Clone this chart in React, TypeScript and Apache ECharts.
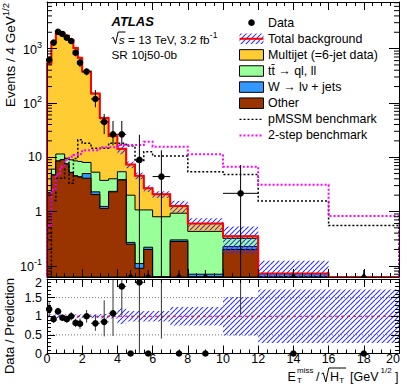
import React, { useEffect, useRef } from 'react';
import * as echarts from 'echarts';

// ---------- data ----------
const binEdges = [0, 0.25, 0.5, 0.75, 1, 1.25, 1.5, 1.75, 2, 2.5, 3, 3.5, 4, 4.5, 5, 5.5, 6, 7, 8, 10, 12, 16, 20];

// stacked backgrounds, bottom to top
const otherBkg = [2.2, 4.7, 8.5, 9.0, 7.5, 5.2, 4.5, 4.3, 4.1, 2.05, 1.14, 2.3, 3.8, 0.25, 0.09, 0.2, 0.03, 0.28, 0.03, 0.2, 0.032, 0.01];
const wJets = [0.02, 0.03, 0.05, 0.05, 0.05, 0.05, 0.05, 0.05, 0.9, 0.25, 0.1, 0.05, 0.05, 0.02, 0.02, 0.02, 0.01, 0.02, 0.04, 0.026, 0.04, 0.01];
const ttbar = [0.2, 1.3, 2.9, 2.4, 2.0, 3.7, 4.0, 4.0, 3.0, 3.0, 2.5, 1.65, 1.55, 1.73, 0.96, 0.85, 0.76, 0.63, 0.36, 0.094, 0, 0.01];
const multijet = [528, 1324, 1838, 1889, 1710, 1441, 1021, 672, 369, 143, 49, 20.5, 8.9, 5.3, 3.5, 1.6, 1.27, 0.33, 0.17, 0.03, 0, 0];
const bkgRelUnc = [0.05, 0.05, 0.05, 0.05, 0.05, 0.05, 0.05, 0.05, 0.05, 0.05, 0.06, 0.06, 0.21, 0.14, 0.14, 0.14, 0.14, 0.25, 0.25, 0.52, 0.72, 0.72];

const dataValues = [617, 1290, 2040, 1860, 1590, 1380, 840, 550, 377, 118, 44.6, 26.4, 26.4, 0, 8.9, 0, 4.4, 0, 0, 2.16, 0, 0];
const dataErrLow = [100, 145, 185, 170, 160, 150, 120, 95, 55, 35, 18, 10, 10, 0, 8.9, 0, 4.4, 0, 0, 2.16, 0, 0];
const dataErrHigh = [100, 145, 185, 170, 160, 150, 120, 95, 55, 55, 18, 20, 20, 0, 17, 0, 9, 0, 0, 5, 0, 0];

const pmssm = [0.05, 1.6, 4.1, 4.1, 9.5, 3.3, 9.5, 21, 18, 14.6, 14.6, 18, 18, 16, 8.3, 12.6, 10.5, 10.5, 5.4, 4.8, 1.56, 0.55];
const twoStep = [0.55, 2.5, 4.8, 6.7, 9, 10.2, 11, 11.5, 13.5, 13.5, 15.2, 15.2, 16.7, 16.7, 16.7, 19.3, 15.6, 15.6, 11.3, 6.7, 3.1, 0.83];

const ratioValues = [1.19, 0.92, 1.13, 0.96, 0.92, 1.0, 0.82, 0.8, 1.0, 0.81, 0.85, 1.08, 1.8, 0, 1.91, 0, 2.1, 0, 0, 6.2, 0, 0];
const ratioErrLow = [0.18, 0.1, 0.1, 0.09, 0.09, 0.11, 0.11, 0.14, 0.17, 0.2, 0.39, 0.61, 0.78, 0, 1.91, 0, 1.7, 0, 0, 5.14, 0, 0];
const ratioErrHigh = [0.18, 0.1, 0.1, 0.09, 0.09, 0.11, 0.11, 0.14, 0.17, 0.22, 0.58, 0.9, 1.2, 0, 1.5, 0, 2.5, 0, 0, 8, 0, 0];

const legendLabels = ['Data', 'Total background', 'Multijet (=6-jet data)', 'tt\u0304 \u2192 ql, ll', 'W \u2192 l\u03bd + jets', 'Other', 'pMSSM benchmark', '2-step benchmark'];

// ---------- styling ----------
const FF = '"Liberation Sans", Arial, Helvetica, sans-serif';
const colMultijet = '#ffcc33';
const colTtbar = '#99ff99';
const colW = '#3399ff';
const colOther = '#993300';
const colHatch = '#3030ff';
const YMIN = 0.0622;
const YMAX = 7215;

function makeHatch(): any {
  const s = 5;
  const c = document.createElement('canvas');
  c.width = s;
  c.height = s;
  const ctx = c.getContext('2d')!;
  ctx.strokeStyle = colHatch;
  ctx.lineWidth = 1.1;
  ctx.beginPath();
  for (let k = -1; k <= 1; k++) {
    ctx.moveTo(k * s, s);
    ctx.lineTo(k * s + s, 0);
  }
  ctx.stroke();
  return { image: c, repeat: 'repeat', imageWidth: s, imageHeight: s };
}

function fmtLog(v: number) {
  const lg = Math.log10(v);
  const e = Math.round(lg);
  if (Math.abs(lg - e) > 1e-6) return '';
  if (e === 0) return '1';
  if (e === 1) return '10';
  return '{b|10}{s|' + e + '}';
}

export default function App() {
  const ref = useRef<HTMLDivElement>(null);
  useEffect(() => {
    if (!ref.current) return;
    const chart = echarts.init(ref.current, undefined, { renderer: 'svg' });
    const hatch = makeHatch();
    const nb = binEdges.length - 1;
    const cumOther = otherBkg.map((v) => v);
    const cumW = cumOther.map((v, i) => v + wJets[i]);
    const cumTT = cumW.map((v, i) => v + ttbar[i]);
    const total = cumTT.map((v, i) => v + multijet[i]);

    const mk = (params: any, api: any, linear: boolean) => {
      const cs = params.coordSys;
      const top = cs.y;
      const bot = cs.y + cs.height;
      const X = (x: number) => api.coord([x, linear ? 0 : 1])[0];
      const Y = (v: number) => {
        if (!linear && !(v > 0)) return bot;
        const y = api.coord([0, v])[1];
        return Math.max(top, Math.min(bot, y));
      };
      return { cs, top, bot, X, Y };
    };
    const steps = (vals: number[], X: any, Y: any, bot: number) => {
      const pts: number[][] = [[X(binEdges[0]), bot]];
      for (let i = 0; i < nb; i++) {
        pts.push([X(binEdges[i]), Y(vals[i])]);
        pts.push([X(binEdges[i + 1]), Y(vals[i])]);
      }
      pts.push([X(binEdges[nb]), bot]);
      return pts;
    };
    const custom = (name: string, panel: number, render: (c: any) => any) => ({
      type: 'custom',
      name,
      coordinateSystem: 'cartesian2d',
      xAxisIndex: panel === 0 ? 0 : 2,
      yAxisIndex: panel === 0 ? 0 : 2,
      silent: true,
      data: [[0, 1]],
      renderItem: (params: any, api: any) => render(mk(params, api, panel === 1)),
    });
    const ln = (x1: number, y1: number, x2: number, y2: number, stroke = '#000', w = 1, dash?: number[]) => ({
      type: 'line',
      shape: { x1, y1, x2, y2 },
      style: { stroke, lineWidth: w, lineDash: dash },
    });

    const minorVals: number[] = [];
    for (let d = -2; d <= 3; d++) for (let m = 2; m <= 9; m++) {
      const v = m * Math.pow(10, d);
      if (v > YMIN && v < YMAX) minorVals.push(v);
    }

    const series: any[] = [];
    const stackDefs: [number[], string][] = [[total, colMultijet], [cumTT, colTtbar], [cumW, colW], [cumOther, colOther]];
    stackDefs.forEach(([vals, col]) => {
      series.push(custom('stack', 0, ({ X, Y, bot }) => ({
        type: 'polygon',
        shape: { points: steps(vals, X, Y, bot) },
        style: { fill: col, stroke: '#000', lineWidth: 1 },
      })));
    });
    series.push(custom('band', 0, ({ X, Y }) => ({
      type: 'group',
      children: total.map((t, i) => {
        const e = bkgRelUnc[i];
        const y1 = Y(t * (1 + e));
        const y2 = Y(t * (1 - e));
        return {
          type: 'rect',
          shape: { x: X(binEdges[i]), y: y1, width: X(binEdges[i + 1]) - X(binEdges[i]), height: Math.max(0, y2 - y1) },
          style: { fill: hatch },
        };
      }),
    })));
    series.push(custom('total', 0, ({ X, Y, bot }) => ({
      type: 'polyline',
      shape: { points: steps(total, X, Y, bot) },
      style: { stroke: '#ff0000', lineWidth: 2, fill: 'none' },
    })));
    series.push(custom('pmssm', 0, ({ X, Y, bot }) => ({
      type: 'polyline',
      shape: { points: steps(pmssm, X, Y, bot) },
      style: { stroke: '#000', lineWidth: 1.5, lineDash: [2, 2], fill: 'none' },
    })));
    series.push(custom('twostep', 0, ({ X, Y, bot }) => ({
      type: 'polyline',
      shape: { points: steps(twoStep, X, Y, bot) },
      style: { stroke: '#ff00ff', lineWidth: 2, lineDash: [2, 2], fill: 'none' },
    })));
    series.push(custom('minor', 0, ({ cs, Y }) => {
      const ch: any[] = [];
      minorVals.forEach((v) => {
        const y = Y(v);
        ch.push(ln(cs.x, y, cs.x + 5, y));
        ch.push(ln(cs.x + cs.width - 5, y, cs.x + cs.width, y));
      });
      return { type: 'group', children: ch };
    }));
    series.push(custom('data', 0, ({ X, Y, bot }) => {
      const ch: any[] = [];
      dataValues.forEach((v, i) => {
        const xl = X(binEdges[i]);
        const xr = X(binEdges[i + 1]);
        const xc = X((binEdges[i] + binEdges[i + 1]) / 2);
        if (v > 0) {
          const yc = Y(v);
          const ylo = v - dataErrLow[i] > 0 ? Y(v - dataErrLow[i]) : bot;
          const yhi = Y(v + dataErrHigh[i]);
          ch.push(ln(xc, ylo, xc, yhi));
          ch.push(ln(xl, yc, xr, yc));
          ch.push({ type: 'circle', shape: { cx: xc, cy: yc, r: 3.3 }, style: { fill: '#000' } });
        } else {
          ch.push(ln(xc, bot, xc, bot - 7));
          ch.push({ type: 'polygon', shape: { points: [[xc - 3, bot], [xc + 3, bot], [xc, bot - 4]] }, style: { fill: '#000' } });
        }
      });
      return { type: 'group', children: ch };
    }));

    // ratio panel
    series.push(custom('guides', 1, ({ cs, Y }) => ({
      type: 'group',
      children: [0.5, 1.5].map((r) => ln(cs.x, Y(r), cs.x + cs.width, Y(r), '#777', 1, [1, 2])),
    })));
    series.push(custom('rband', 1, ({ X, Y }) => ({
      type: 'group',
      children: bkgRelUnc.map((e, i) => {
        const y1 = Y(1 + e);
        const y2 = Y(1 - e);
        return {
          type: 'rect',
          shape: { x: X(binEdges[i]), y: y1, width: X(binEdges[i + 1]) - X(binEdges[i]), height: Math.max(0, y2 - y1) },
          style: { fill: hatch },
        };
      }),
    })));
    series.push(custom('unity', 1, ({ cs, Y }) => ln(cs.x, Y(1), cs.x + cs.width, Y(1), '#ff0000', 1, [3, 3])));
    series.push(custom('rdata', 1, ({ X, Y, bot }) => {
      const ch: any[] = [];
      ratioValues.forEach((v, i) => {
        const xl = X(binEdges[i]);
        const xr = X(binEdges[i + 1]);
        const xc = X((binEdges[i] + binEdges[i + 1]) / 2);
        if (dataValues[i] === 0) {
          ch.push({ type: 'circle', shape: { cx: xc, cy: bot, r: 3.3 }, style: { fill: '#000' } });
          return;
        }
        const ylo = Y(Math.max(0, v - ratioErrLow[i]));
        const yhi = Y(v + ratioErrHigh[i]);
        ch.push(ln(xc, ylo, xc, yhi, '#333'));
        if (v <= 2) {
          const yc = Y(v);
          ch.push(ln(xl, yc, xr, yc, '#333'));
          ch.push({ type: 'circle', shape: { cx: xc, cy: yc, r: 3.3 }, style: { fill: '#000' } });
        }
      });
      return { type: 'group', children: ch };
    }));

    const axLine = { show: true, onZero: false, lineStyle: { color: '#000', width: 1 } };
    const xAx = (grid: number, pos: string, labels: boolean) => ({
      type: 'value',
      gridIndex: grid,
      position: pos,
      min: 0,
      max: 20,
      interval: 2,
      z: 10,
      axisLine: axLine,
      axisTick: { show: true, inside: true, length: 8, lineStyle: { color: '#000' } },
      minorTick: { show: true, splitNumber: 4, length: 4, lineStyle: { color: '#000' } },
      splitLine: { show: false },
      axisLabel: labels
        ? {
            show: true,
            color: '#000',
            fontFamily: FF,
            fontSize: 12.5,
            lineHeight: 11,
            margin: 0,
            formatter: (v: number) => (v === 20 ? '{e|20}' : String(v)),
            rich: { e: { color: '#000', fontFamily: FF, fontSize: 12.5, lineHeight: 11, padding: [0, 12, 0, 0] } },
          }
        : { show: false },
    });
    const logAx = (pos: string, labels: boolean) => ({
      type: 'log',
      logBase: 10,
      gridIndex: 0,
      position: pos,
      min: YMIN,
      max: YMAX,
      z: 10,
      axisLine: axLine,
      axisTick: { show: true, inside: true, length: 10, lineStyle: { color: '#000' } },
      minorTick: { show: false },
      splitLine: { show: false },
      axisLabel: labels
        ? {
            show: true,
            color: '#000',
            fontFamily: FF,
            fontSize: 12.5,
            margin: 5,
            showMinLabel: true,
            showMaxLabel: true,
            formatter: fmtLog,
            rich: {
              b: { color: '#000', fontFamily: FF, fontSize: 12.5, verticalAlign: 'bottom' },
              s: { color: '#000', fontFamily: FF, fontSize: 9, verticalAlign: 'bottom', padding: [0, 0, 7, 0] },
            },
          }
        : { show: false },
    });
    const ratioAx = (pos: string, labels: boolean) => ({
      type: 'value',
      gridIndex: 1,
      position: pos,
      min: 0,
      max: 2,
      interval: 0.5,
      z: 10,
      axisLine: axLine,
      axisTick: { show: true, inside: true, length: 8, lineStyle: { color: '#000' } },
      minorTick: { show: true, splitNumber: 5, length: 4, lineStyle: { color: '#000' } },
      splitLine: { show: false },
      axisLabel: labels
        ? {
            show: true,
            color: '#000',
            fontFamily: FF,
            fontSize: 12.5,
            margin: 5,
            formatter: (v: number) => (v === 2 ? '{t|2}' : String(v)),
            rich: { t: { color: '#000', fontFamily: FF, fontSize: 12.5, padding: [7, 0, 0, 0] } },
          }
        : { show: false },
    });

    const txt = (x: number, y: number, text: string, size = 12.4, extra: any = {}) => ({
      type: 'text',
      x,
      y,
      z: 100,
      style: { text, fill: '#000', fontFamily: FF, fontSize: size, verticalAlign: 'middle', ...extra },
    });

    const legY = [22.7, 38.8, 54.9, 71, 87.1, 103.2, 119.3, 135.4];
    const lx = 239.5;
    const lw = 24;
    const lh = 10.5;
    const legendEls: any[] = [];
    legendEls.push({ type: 'circle', z: 100, shape: { cx: lx + lw / 2, cy: legY[0], r: 3.3 }, style: { fill: '#000' } });
    legendEls.push({ type: 'rect', z: 100, shape: { x: lx, y: legY[1] - lh / 2, width: lw, height: lh }, style: { fill: hatch } });
    legendEls.push({ type: 'line', z: 101, shape: { x1: lx, y1: legY[1], x2: lx + lw, y2: legY[1] }, style: { stroke: '#ff0000', lineWidth: 2 } });
    [colMultijet, colTtbar, colW, colOther].forEach((c, k) => {
      legendEls.push({ type: 'rect', z: 100, shape: { x: lx, y: legY[2 + k] - lh / 2, width: lw, height: lh }, style: { fill: c, stroke: '#000', lineWidth: 1 } });
    });
    legendEls.push({ type: 'line', z: 100, shape: { x1: lx, y1: legY[6], x2: lx + lw, y2: legY[6] }, style: { stroke: '#000', lineWidth: 1.2, lineDash: [2, 2] } });
    legendEls.push({ type: 'line', z: 100, shape: { x1: lx, y1: legY[7], x2: lx + lw, y2: legY[7] }, style: { stroke: '#ff00ff', lineWidth: 2, lineDash: [2, 2] } });
    legendLabels.forEach((t, k) => legendEls.push(txt(268, legY[k], t, 12.4)));

    const graphic: any[] = [
      ...legendEls,
      // main y title
      {
        type: 'text', x: 9, y: 3, rotation: Math.PI / 2, z: 100,
        style: {
          text: '{a|Events / 4 GeV}{s|1/2}', align: 'right', verticalAlign: 'middle',
          rich: {
            a: { fill: '#000', fontFamily: FF, fontSize: 13.5, verticalAlign: 'bottom' },
            s: { fill: '#000', fontFamily: FF, fontSize: 9.5, verticalAlign: 'bottom', padding: [0, 0, 7, 0] },
          },
        },
      },
      // ratio y title
      {
        type: 'text', x: 9, y: 278, rotation: Math.PI / 2, z: 100,
        style: { text: 'Data / Prediction', align: 'right', verticalAlign: 'middle', fill: '#000', fontFamily: FF, fontSize: 13 },
      },
      // ATLAS label
      txt(111.5, 21.7, 'ATLAS', 13, { fontWeight: 'bold', fontStyle: 'italic' }),
      { type: 'polyline', z: 100, shape: { points: [[111.5, 38.5], [113.2, 37.3], [115.5, 43.5], [118.2, 32], [125.5, 32]] }, style: { stroke: '#000', lineWidth: 1, fill: 'none' } },
      {
        type: 'text', x: 118.8, y: 38, z: 100,
        style: {
          text: '{i|s}{m| = 13 TeV, 3.2 fb}{s|-1}', verticalAlign: 'middle',
          rich: {
            i: { fill: '#000', fontFamily: FF, fontSize: 11.8, fontStyle: 'italic', verticalAlign: 'bottom' },
            m: { fill: '#000', fontFamily: FF, fontSize: 11.8, verticalAlign: 'bottom' },
            s: { fill: '#000', fontFamily: FF, fontSize: 8.5, verticalAlign: 'bottom', padding: [0, 0, 6, 0] },
          },
        },
      },
      txt(111.5, 55, 'SR 10j50-0b', 11.8),
      // x title
      txt(287.5, 376.7, 'E', 12.5),
      txt(297, 370.3, 'miss', 8),
      txt(297, 380, 'T', 8),
      txt(316, 376.7, '/', 12.5),
      { type: 'polyline', z: 100, shape: { points: [[321.5, 374], [323.2, 372.8], [325.8, 382], [328.8, 368], [346, 368]] }, style: { stroke: '#000', lineWidth: 1, fill: 'none' } },
      txt(330, 376.7, 'H', 12.5),
      txt(339.2, 380.3, 'T', 8),
      txt(350, 376.7, '[GeV', 12.5),
      txt(380.5, 370, '1/2', 8),
      txt(395, 376.7, ']', 12.5),
    ];

    const option: any = {
      animation: false,
      backgroundColor: '#fff',
      textStyle: { fontFamily: FF },
      grid: [
        { left: 47, top: 2, width: 352, height: 275, containLabel: false, outerBoundsMode: 'none', show: false },
        { left: 47, top: 279, width: 352, height: 74.5, containLabel: false, outerBoundsMode: 'none', show: false },
      ],
      xAxis: [xAx(0, 'bottom', false), xAx(0, 'top', false), xAx(1, 'bottom', true), xAx(1, 'top', false)],
      yAxis: [logAx('left', true), logAx('right', false), ratioAx('left', true), ratioAx('right', false)],
      series,
      graphic,
    };
    chart.setOption(option);
    return () => chart.dispose();
  }, []);
  return <div ref={ref} style={{ position: 'absolute', left: 0, top: 0, width: 407, height: 386, background: '#fff' }} />;
}
